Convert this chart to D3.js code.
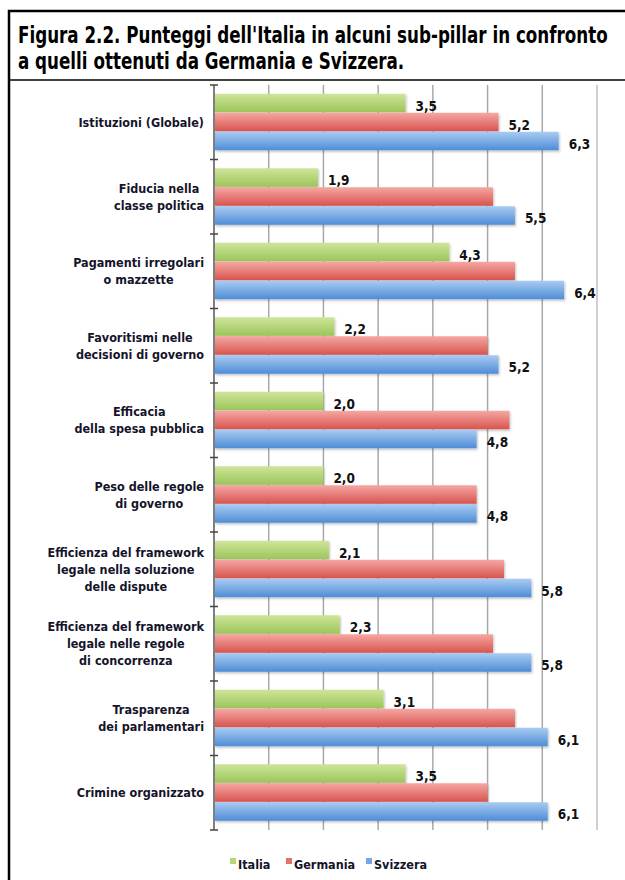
<!DOCTYPE html>
<html>
<head>
<meta charset="utf-8">
<script src="https://cdn.jsdelivr.net/npm/d3@7"></script>
<style>
  body { margin: 0; background: #fff; }
  svg { display: block; }
  text { font-family: "Liberation Sans Narrow", "DejaVu Sans Condensed", "Arial Narrow", sans-serif; font-weight: bold; }
</style>
</head>
<body>
<script>
// data
const categories = [
  ["Istituzioni (Globale)"],
  ["Fiducia nella", "classe politica"],
  ["Pagamenti irregolari", "o mazzette"],
  ["Favoritismi nelle", "decisioni di governo"],
  ["Efficacia", "della spesa pubblica"],
  ["Peso delle regole", "di governo"],
  ["Efficienza del framework", "legale nella soluzione", "delle dispute"],
  ["Efficienza del framework", "legale nelle regole", "di concorrenza"],
  ["Trasparenza", "dei parlamentari"],
  ["Crimine organizzato"]
];
const seriesNames = ["Italia", "Germania", "Svizzera"];
const italia   = [3.5, 1.9, 4.3, 2.2, 2.0, 2.0, 2.1, 2.3, 3.1, 3.5];
const germania = [5.2, 5.1, 5.5, 5.0, 5.4, 4.8, 5.3, 5.1, 5.5, 5.0];
const svizzera = [6.3, 5.5, 6.4, 5.2, 4.8, 4.8, 5.8, 5.8, 6.1, 6.1];
// which bars carry a value label in the original
const labelItalia   = italia.map(() => true);
const labelGermania = germania.map((d, i) => i === 0);
const labelSvizzera = svizzera.map(() => true);
const xTicks = [1, 2, 3, 4, 5, 6, 7];
const title = [
  "Figura 2.2. Punteggi dell'Italia in alcuni sub-pillar in confronto",
  "a quelli ottenuti da Germania e Svizzera."
];

const W = 625, H = 880;
const colors = {
  Italia:   ["#cfe59a", "#9cc55a"],
  Germania: ["#f6a7a3", "#d7544f"],
  Svizzera: ["#a9cbf2", "#4e8dd6"]
};
const legendColors = { Italia: "#b5d877", Germania: "#e4726c", Svizzera: "#73a8e4" };

const svg = d3.select("body").append("svg").attr("width", W).attr("height", H);

const defs = svg.append("defs");
seriesNames.forEach(s => {
  const g = defs.append("linearGradient").attr("id", "g-" + s)
    .attr("x1", 0).attr("x2", 0).attr("y1", 0).attr("y2", 1);
  g.append("stop").attr("offset", "0%").attr("stop-color", colors[s][0]);
  g.append("stop").attr("offset", "100%").attr("stop-color", colors[s][1]);
});
const f = defs.append("filter").attr("id", "shadow")
  .attr("x", "-5%").attr("y", "-30%").attr("width", "110%").attr("height", "160%");
f.append("feDropShadow").attr("dx", 1).attr("dy", 1.5).attr("stdDeviation", 1)
  .attr("flood-color", "#000").attr("flood-opacity", 0.25);

// frame
svg.append("path").attr("d", `M9,${H} V11 H${W}`)
  .attr("fill", "none").attr("stroke", "#000").attr("stroke-width", 2.5);
svg.append("line").attr("x1", 9).attr("x2", W).attr("y1", 80).attr("y2", 80)
  .attr("stroke", "#000").attr("stroke-width", 1.5);

// title: condensed horizontally to the width of the first line
const titleG = svg.append("g");
const titleT = titleG.selectAll("text").data(title).join("text")
  .attr("x", 0).attr("y", (d, i) => 43 + i * 26)
  .attr("font-size", 23.5).attr("fill", "#000")
  .text(d => d);
const w0 = titleT.node().getComputedTextLength();
titleG.attr("transform", `translate(18,0) scale(${590 / w0},1)`);

// scales
const x = d3.scaleLinear().domain([0, 7]).range([214, 597]);
const y = d3.scaleBand().domain(d3.range(categories.length))
  .range([85, 830]).paddingInner(0.235).paddingOuter(0.1175);
const ySub = d3.scaleBand().domain(seriesNames).range([0, y.bandwidth()]);

// grid
svg.append("g").selectAll("line").data(xTicks).join("line")
  .attr("x1", d => x(d)).attr("x2", d => x(d))
  .attr("y1", 85).attr("y2", 830)
  .attr("stroke", d => d === 7 ? "#cfcfcf" : "#a8a8a8")
  .attr("stroke-width", d => d === 7 ? 2 : 1.5);

// bars
const rows = categories.map((c, i) => ({
  i,
  values: [
    { s: "Italia", v: italia[i], lab: labelItalia[i] },
    { s: "Germania", v: germania[i], lab: labelGermania[i] },
    { s: "Svizzera", v: svizzera[i], lab: labelSvizzera[i] }
  ]
}));

const groups = svg.append("g").selectAll("g").data(rows).join("g")
  .attr("transform", d => `translate(0,${y(d.i)})`);

groups.selectAll("rect").data(d => d.values).join("rect")
  .attr("x", x(0) + 1)
  .attr("y", d => ySub(d.s))
  .attr("width", d => x(d.v) - x(0) - 1)
  .attr("height", ySub.bandwidth() - 0.5)
  .attr("fill", d => `url(#g-${d.s})`)
  .attr("filter", "url(#shadow)");

const fmt = v => d3.format(".1f")(v).replace(".", ",");
groups.selectAll("text.val").data(d => d.values.filter(v => v.lab)).join("text")
  .attr("class", "val")
  .attr("x", d => x(d.v) + 10)
  .attr("y", d => ySub(d.s) + ySub.bandwidth() / 2 + 7.5)
  .attr("font-size", 13.5).attr("fill", "#111")
  .text(d => fmt(d.v));

// axis
const axis = svg.append("g");
axis.append("line").attr("x1", x(0)).attr("x2", x(0)).attr("y1", 85).attr("y2", 830)
  .attr("stroke", "#555").attr("stroke-width", 1.5);
const bounds = d3.range(categories.length + 1).map(i => 85 + i * y.step());
axis.selectAll("line.tick").data(bounds).join("line").attr("class", "tick")
  .attr("x1", x(0) - 4).attr("x2", x(0) + 4)
  .attr("y1", d => d).attr("y2", d => d)
  .attr("stroke", "#444").attr("stroke-width", 1.5);

// category labels: lines centered inside a block right-aligned to the axis
const lineH = 17;
const labels = svg.append("g").selectAll("text").data(categories).join("text")
  .attr("font-size", 12.5).attr("fill", "#14142a").attr("text-anchor", "middle");
labels.each(function (lines, i) {
  const t = d3.select(this);
  const cy = y(i) + y.bandwidth() / 2;
  const y0 = cy - (lines.length - 1) * lineH / 2 + 4.5;
  t.selectAll("tspan").data(lines).join("tspan")
    .attr("y", (d, k) => y0 + k * lineH)
    .text(d => d);
  let maxW = 0;
  t.selectAll("tspan").each(function () { maxW = Math.max(maxW, this.getComputedTextLength()); });
  t.selectAll("tspan").attr("x", 204 - maxW / 2);
});

// legend
const legendX = { Italia: 230, Germania: 286, Svizzera: 366 };
const leg = svg.append("g").selectAll("g").data(seriesNames).join("g")
  .attr("transform", d => `translate(${legendX[d]},858)`);
leg.append("rect").attr("width", 6).attr("height", 6).attr("fill", d => legendColors[d]);
leg.append("text").attr("x", 8).attr("y", 11)
  .attr("font-size", 12.5).attr("fill", "#14142a").text(d => d);
</script>
</body>
</html>
